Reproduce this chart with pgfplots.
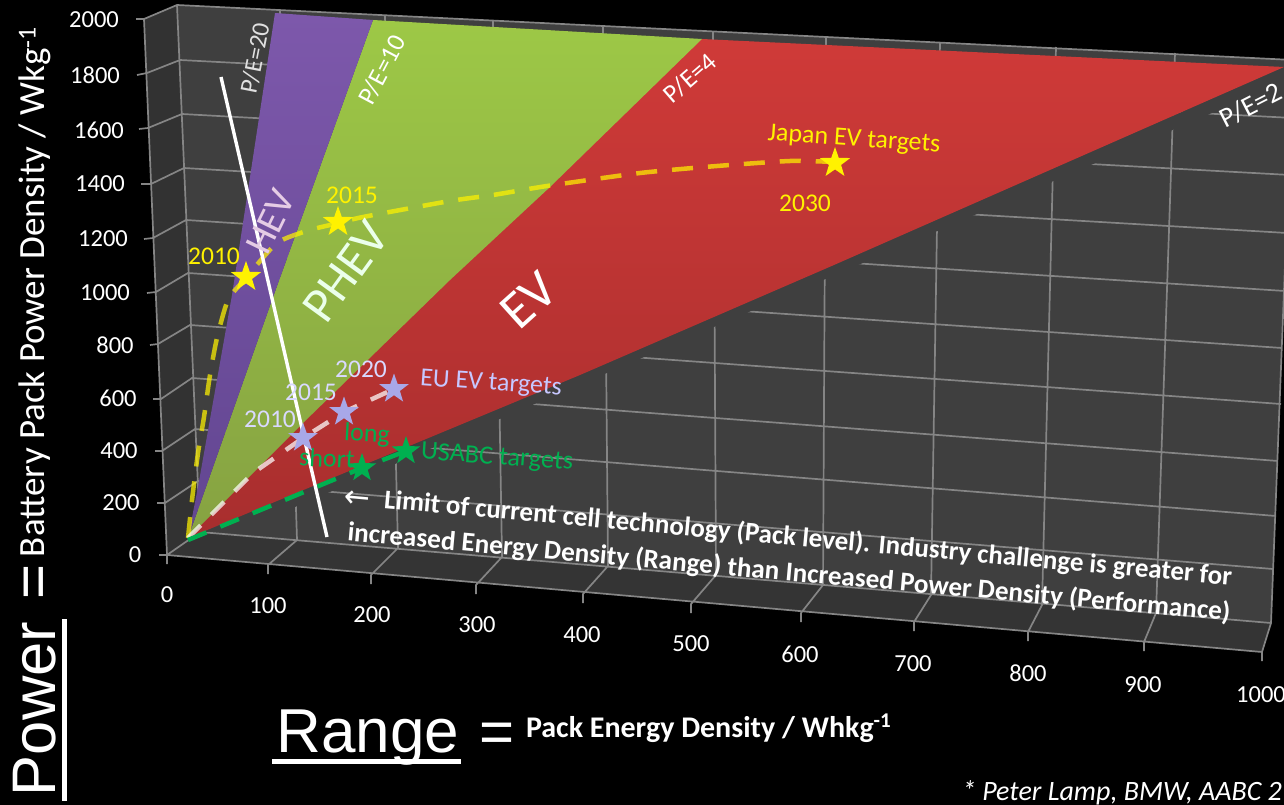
\documentclass[border=0pt]{standalone}
\usepackage{fontspec}
\usepackage{pgfplots}
\pgfplotsset{compat=1.18}
\setmainfont{Carlito}
\newfontfamily\arial{Liberation Sans}
\newfontfamily\symb{DejaVu Sans}
\newcommand{\fs}[1]{\fontsize{#1}{#1}\selectfont}

\definecolor{wallc}{HTML}{3F3F3F}
\definecolor{sidec}{HTML}{323232}
\definecolor{floorc}{HTML}{343434}
\definecolor{gridc}{HTML}{858585}
\definecolor{evgreen}{HTML}{00B050}
\definecolor{lav}{HTML}{A8A8E8}
\definecolor{redtop}{RGB}{207,58,56}
\definecolor{redbot}{RGB}{168,46,46}
\definecolor{greentop}{RGB}{157,200,70}
\definecolor{greenbot}{RGB}{134,162,66}
\definecolor{purptop}{RGB}{125,88,171}
\definecolor{purpbot}{RGB}{98,70,145}

% five-pointed filled star used for the target points
\pgfdeclareplotmark{fivestar}{%
  \pgfpathmoveto{\pgfpointpolar{90}{\pgfplotmarksize}}%
  \pgfpathlineto{\pgfpointpolar{126}{0.40\pgfplotmarksize}}%
  \pgfpathlineto{\pgfpointpolar{162}{\pgfplotmarksize}}%
  \pgfpathlineto{\pgfpointpolar{198}{0.40\pgfplotmarksize}}%
  \pgfpathlineto{\pgfpointpolar{234}{\pgfplotmarksize}}%
  \pgfpathlineto{\pgfpointpolar{270}{0.40\pgfplotmarksize}}%
  \pgfpathlineto{\pgfpointpolar{306}{\pgfplotmarksize}}%
  \pgfpathlineto{\pgfpointpolar{342}{0.40\pgfplotmarksize}}%
  \pgfpathlineto{\pgfpointpolar{18}{\pgfplotmarksize}}%
  \pgfpathlineto{\pgfpointpolar{54}{0.40\pgfplotmarksize}}%
  \pgfpathclose\pgfusepathqfill}

\begin{document}
\begin{tikzpicture}[every node/.style={inner sep=0pt,outer sep=0pt,text=white}]
\begin{axis}[
  scale only axis, width=1284pt, height=805pt,
  xmin=0, xmax=1284, ymin=0, ymax=805, y dir=reverse,
  hide axis, clip=true, unbounded coords=jump,
  tick label style={font=\fs{24}}
]
% page and the three panels of the projected box
\addplot[fill=black,draw=none] coordinates {(0,0) (1284,0) (1284,805) (0,805)} --cycle;
\addplot[fill=sidec,draw=none] coordinates {(144,19) (177,5) (200,532) (167,555)} --cycle;
\addplot[fill=wallc,draw=none] coordinates {(177,5) (1293,60) (1271,623) (200,532)} --cycle;
\addplot[fill=floorc,draw=none] coordinates {(167,555) (200,532) (1271,623) (1262,652)} --cycle;

% gridlines and tick stubs
\addplot[gridc,line width=1.7pt] table {
x y
136 19
144 19
177 5
1293 60
nan nan
137 75
147 73
180 60
1293 118
nan nan
139 129
148 128
182 114
1290 175
nan nan
141 184
151 184
184 168
1287 233
nan nan
144 239
153 238
186 220
1285 291
nan nan
147 293
156 292
188 273
1282 348
nan nan
150 345
158 344
190 325
1281 404
nan nan
153 399
161 399
192 378
1278 461
nan nan
155 451
162 451
195 429
1276 516
nan nan
157 503
165 503
198 481
1273 569
nan nan
159 555
167 555
200 532
1271 623
nan nan
167 564
167 555
1262 652
1271 623
nan nan
144 19
167 555
nan nan
177 5
200 532
nan nan
1293 60
1271 623
nan nan
268 574
268 565
297 540
280 11
nan nan
371 584
371 575
398 548
385 16
nan nan
476 594
476 585
502 557
493 21
nan nan
583 603
583 594
608 566
603 26
nan nan
691 613
691 604
716 575
713 32
nan nan
801 622
801 613
823 585
826 37
nan nan
914 631
914 622
931 595
940 42
nan nan
1028 641
1028 632
1042 605
1056 47
nan nan
1144 651
1144 642
1156 613
1175 53
nan nan
1262 661
1262 652
};

% gridlines fade out just below the P/E=2 boundary
\addplot[fill=wallc,draw=none] coordinates {(200,533) (1284,68) (1284,82) (260,522)} --cycle;

% duty-cycle regions
\addplot[draw=none,top color=redtop,bottom color=redbot]
  coordinates {(188,538) (400,200) (702,39) (1284,67) (834,265) (580,375)} --cycle;
\addplot[draw=none,top color=greentop,bottom color=greenbot]
  coordinates {(188,538) (272,300) (373,20) (702,39) (550,187) (450,280) (303,423)} --cycle;
\addplot[draw=none,top color=purptop,bottom color=purpbot]
  coordinates {(188,538) (198,487) (232,295) (275,13) (373,20) (272,300)} --cycle;

% target trajectories
\addplot[yellow,opacity=0.72,line width=4.5pt,dash pattern=on 21pt off 15pt,smooth,tension=0.4] coordinates {
 (188,538) (192,500) (198,453) (204,417) (210,375) (217,338) (228,300) (246,278)
 (277,243) (310,230) (339,223) (363,217) (450,201) (493,195) (547,186) (640,173)
 (717,166) (790,161) (835,162)};
\addplot[white,opacity=0.72,line width=4.5pt,dash pattern=on 18pt off 15pt] coordinates {
 (188,538) (253,473) (303,438) (344,412) (394,389)};
\addplot[evgreen,line width=4.5pt,dash pattern=on 20pt off 15pt] coordinates {
 (188,540) (362,468) (406,451)};

% target points
\addplot[only marks,mark=fivestar,mark size=16pt,mark options={fill=yellow,draw=none}] coordinates {
 (246,277) (338,222) (835,163)};
\addplot[only marks,mark=fivestar,mark size=15.5pt,mark options={fill=lav,draw=none}] coordinates {
 (303,438) (344,412) (394,389)};
\addplot[only marks,mark=fivestar,mark size=15pt,mark options={fill=evgreen,draw=none}] coordinates {
 (362,468) (406,451)};

% limit of current cell technology
\addplot[white,line width=3.4pt] coordinates {(221,77) (327,537)};

% region and ratio labels
\node[rotate=79,text=white!88!black] at (axis cs:255,58) {\fs{25}P/E=20};
\node[rotate=62] at (axis cs:382,70) {\fs{26}P/E=10};
\node[rotate=41] at (axis cs:690,78) {\fs{26}P/E=4};
\node[rotate=27] at (axis cs:1251,105) {\fs{28}P/E=2};
\node[rotate=64,text=white!80!violet] at (axis cs:271,222) {\fs{39}HEV};
\node[rotate=54,text=white!92!green] at (axis cs:346,272) {\fs{50}PHEV};
\node[rotate=42] at (axis cs:529,300) {\fs{53}EV};

% target labels
\node[text=yellow] at (axis cs:214,256) {\fs{25.5}2010};
\node[text=yellow] at (axis cs:352,195) {\fs{25.5}2015};
\node[text=yellow] at (axis cs:805,203) {\fs{25.5}2030};
\node[text=yellow,rotate=-4] at (axis cs:854,140) {\fs{26}Japan EV targets};
\node[text=white!85!blue] at (axis cs:270,419) {\fs{25.5}2010};
\node[text=white!85!blue] at (axis cs:311,392) {\fs{25.5}2015};
\node[text=white!85!blue] at (axis cs:361,369) {\fs{25.5}2020};
\node[text=white!78!blue,rotate=-4] at (axis cs:491,384) {\fs{26}EU EV targets};
\node[text=evgreen,rotate=-3] at (axis cs:367,435) {\fs{26}long};
\node[text=evgreen,rotate=-3] at (axis cs:327,458) {\fs{26}short};
\node[text=evgreen,rotate=-4] at (axis cs:497,458) {\fs{26.3}USABC targets};

% explanatory note
\node[rotate=-5.2] at (axis cs:357,500) {\fs{31}\symb ←};
\node[rotate=-5.2,anchor=center] at (axis cs:808,539) {\fs{27}\bfseries Limit of current cell technology (Pack level). Industry challenge is greater for};
\node[rotate=-5.2,anchor=center] at (axis cs:789,573) {\fs{27.2}\bfseries increased Energy Density (Range) than Increased Power Density (Performance)};

% power density tick labels
\node at (axis cs:94,20)  {\fs{24.5}2000};
\node at (axis cs:95,75)  {\fs{24.5}1800};
\node at (axis cs:99,130) {\fs{24.5}1600};
\node at (axis cs:100,184){\fs{24.5}1400};
\node at (axis cs:103,239){\fs{24.5}1200};
\node at (axis cs:105,293){\fs{24.5}1000};
\node at (axis cs:115,345){\fs{24.5}800};
\node at (axis cs:118,398){\fs{24.5}600};
\node at (axis cs:119,451){\fs{24.5}400};
\node at (axis cs:121,503){\fs{24.5}200};
\node at (axis cs:135,555){\fs{24.5}0};

% energy density tick labels
\node at (axis cs:167,595) {\fs{24.5}0};
\node at (axis cs:268,606) {\fs{24.5}100};
\node at (axis cs:372,615) {\fs{24.5}200};
\node at (axis cs:477,625) {\fs{24.5}300};
\node at (axis cs:582,635) {\fs{24.5}400};
\node at (axis cs:691,644) {\fs{24.5}500};
\node at (axis cs:800,654) {\fs{24.5}600};
\node at (axis cs:913,664) {\fs{24.5}700};
\node at (axis cs:1028,673){\fs{24.5}800};
\node at (axis cs:1143,685){\fs{24.5}900};
\node at (axis cs:1261,695){\fs{24.5}1000};

% axis titles
\node[rotate=90] at (axis cs:35,292) {\fs{37}Battery Pack Power Density / Wkg\textsuperscript{-1}};
\node[rotate=90,anchor=south] at (axis cs:56,709) {\fs{61.5}\arial Power};
\node[rotate=90] at (axis cs:39,582) {\fs{60}\arial =};
\addplot[white,line width=5pt] coordinates {(64,619) (64,801)};
\node[anchor=base] at (axis cs:368,752) {\fs{62}\arial Range};
\addplot[white,line width=5pt] coordinates {(272,761) (461,761)};
\node at (axis cs:497,738) {\fs{60}\arial =};
\node[anchor=base west] at (axis cs:526,737) {\fs{30}\bfseries Pack Energy Density / Whkg\textsuperscript{-1}};
\node[anchor=base west] at (axis cs:962,800) {\fs{28}\itshape * Peter Lamp, BMW, AABC 2};
\end{axis}
\end{tikzpicture}
\end{document}
